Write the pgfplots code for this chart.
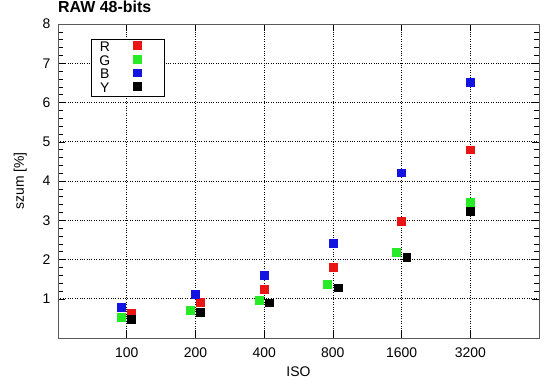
\documentclass[border=0pt]{standalone}
\usepackage{pgfplots}
\pgfplotsset{compat=1.18}
\usepackage{fontspec}
\setmainfont{Liberation Sans}
\definecolor{cR}{RGB}{235,20,20}
\definecolor{cG}{RGB}{40,235,40}
\definecolor{cB}{RGB}{20,20,225}
\definecolor{cY}{RGB}{0,0,0}
\pgfplotsset{
  sq/.style={only marks, mark=square*, mark size=3.9bp,
    mark options={draw=#1, fill=#1}, draw=#1,
    legend image code/.code={\path[draw=none, fill=none] (0bp,-5bp) rectangle (50bp,5bp);
      \path plot[mark=square*, mark size=3.9bp, mark options={draw=#1, fill=#1}] coordinates {(27bp,2bp)};}},
}
\begin{document}
\begin{tikzpicture}
\useasboundingbox (-58bp,-51bp) rectangle (492bp,338bp);
\begin{axis}[
  at={(0,0)}, anchor=south west,
  scale only axis,
  width=481bp, height=314bp,
  xmin=-1, xmax=6, ymin=0, ymax=8,
  xtick={0,1,2,3,4,5},
  xticklabels={100,200,400,800,1600,3200},
  ytick={1,2,3,4,5,6,7,8},
  minor y tick num=4,
  tick align=inside,
  major tick length=7bp,
  minor tick length=5bp,
  tick style={black, line width=0.5bp},
  axis line style={draw=black!65, line width=1bp},
  grid=major,
  major grid style={black, dotted, line width=0.6bp},
  /pgf/number format/assume math mode=true,
  tick label style={font=\fontsize{14}{16}\selectfont},
  xticklabel style={yshift=-6bp},
  yticklabel style={xshift=-4bp},
  xlabel={ISO},
  ylabel={szum [\%]},
  label style={font=\fontsize{14}{16}\selectfont},
  xlabel style={yshift=-3bp},
  ylabel style={yshift=9bp},
  title={\textbf{RAW 48-bits}},
  title style={at={(0,1)}, anchor=south west, inner sep=0pt, yshift=5bp, font=\fontsize{16}{18}\selectfont},
  legend plot pos=right,
  legend style={at={(33bp,299bp)}, anchor=north west, draw=black, line width=0.8bp,
    font=\fontsize{14}{14}\selectfont, row sep=2.3bp, inner xsep=4bp, inner ysep=2bp,
    nodes={inner sep=0bp}, cells={anchor=center}, column sep=0bp},
  legend cell align=center,
]
\addplot[sq=cR] coordinates {
  (0.065,0.64) (1.075,0.91) (2.0,1.24) (3.0,1.81) (4.0,2.98) (5.0,4.80)};
\addlegendentry{\hspace{4bp}R}
\addplot[sq=cG] coordinates {
  (-0.08,0.52) (0.925,0.71) (1.925,0.97) (2.92,1.37) (3.925,2.18) (5.0,3.45)};
\addlegendentry{\hspace{4bp}G}
\addplot[sq=cB] coordinates {
  (-0.08,0.78) (1.0,1.12) (2.0,1.60) (3.0,2.42) (4.0,4.21) (5.0,6.52)};
\addlegendentry{\hspace{4bp}B}
\addplot[sq=cY] coordinates {
  (0.065,0.47) (1.075,0.66) (2.075,0.90) (3.075,1.28) (4.075,2.05) (5.0,3.23)};
\addlegendentry{\hspace{4bp}Y}
\end{axis}
\end{tikzpicture}
\end{document}
